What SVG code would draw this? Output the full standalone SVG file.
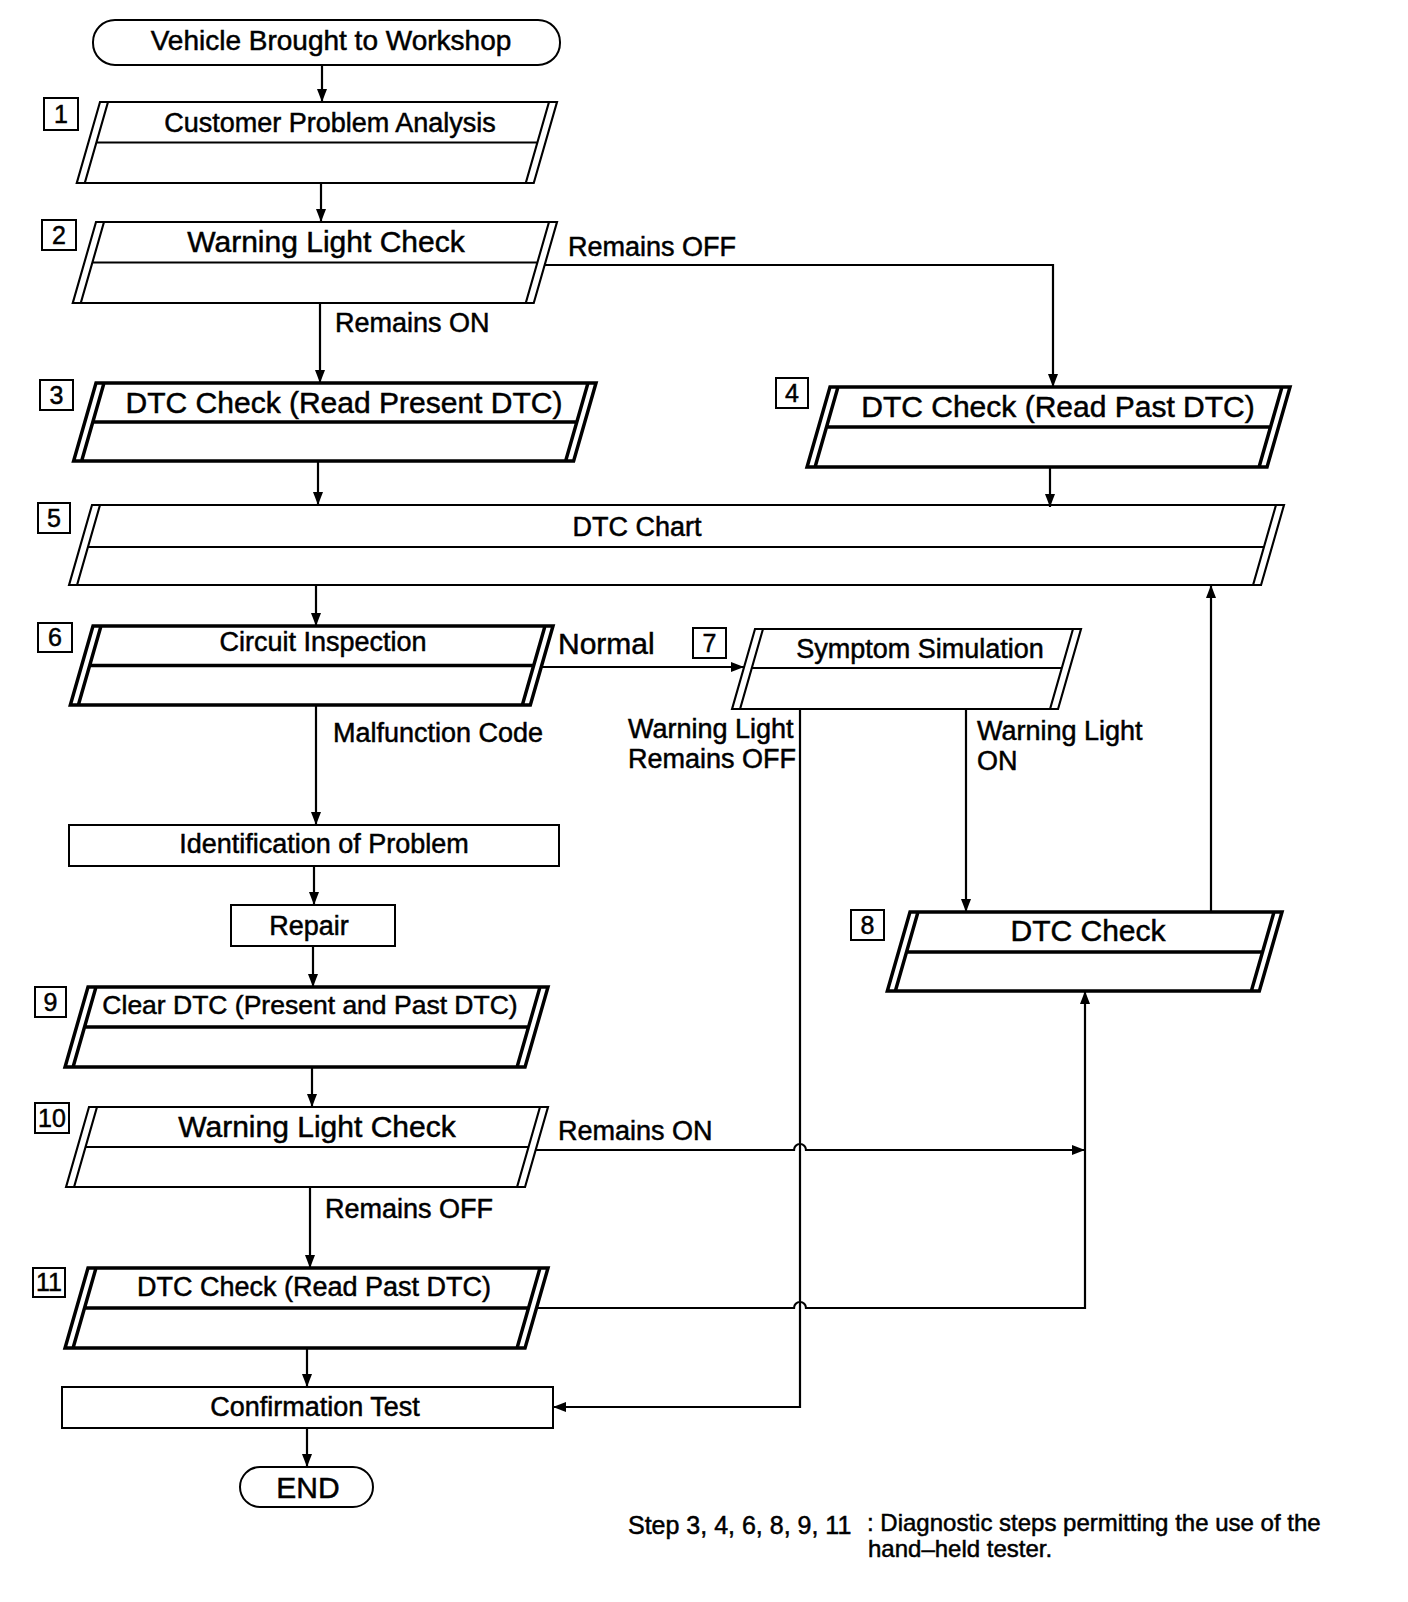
<svg xmlns="http://www.w3.org/2000/svg" width="1408" height="1602" viewBox="0 0 1408 1602">
<style>
text{font-family:"Liberation Sans",Arial,sans-serif;fill:#000;stroke:#000;stroke-width:0.5}
.t27{font-size:27px}
.t30{font-size:30px}
.c{text-anchor:middle}
.pg{fill:none;stroke:#000;stroke-width:2.2;stroke-linejoin:miter}
.pgb{fill:none;stroke:#000;stroke-width:3.6;stroke-linejoin:miter}
.box{fill:#fff;stroke:#000;stroke-width:2}
.num{fill:none;stroke:#000;stroke-width:2}
.nt{font-size:25px;text-anchor:middle}
.cn{fill:none;stroke:#000;stroke-width:2.2}
</style>
<defs>
<marker id="ah" markerUnits="userSpaceOnUse" markerWidth="14" markerHeight="10" refX="13" refY="5" orient="auto">
<path d="M0,0 L13,5 L0,10 Z" fill="#000"/>
</marker>
</defs>
<rect width="1408" height="1602" fill="#fff"/>

<g id="connectors">
<path class="cn" d="M322,65 V102" marker-end="url(#ah)"/>
<path class="cn" d="M321,183 V222" marker-end="url(#ah)"/>
<path class="cn" d="M320,303 V383" marker-end="url(#ah)"/>
<path class="cn" d="M545,265 H1053 V387" marker-end="url(#ah)"/>
<path class="cn" d="M318,461 V505" marker-end="url(#ah)"/>
<path class="cn" d="M1050,467 V507" marker-end="url(#ah)"/>
<path class="cn" d="M316,585 V626" marker-end="url(#ah)"/>
<path class="cn" d="M541,667 H744" marker-end="url(#ah)"/>
<path class="cn" d="M316,705 V825" marker-end="url(#ah)"/>
<path class="cn" d="M314,866 V905" marker-end="url(#ah)"/>
<path class="cn" d="M313,946 V987" marker-end="url(#ah)"/>
<path class="cn" d="M312,1067 V1107" marker-end="url(#ah)"/>
<path class="cn" d="M310,1187 V1268" marker-end="url(#ah)"/>
<path class="cn" d="M307,1348 V1387" marker-end="url(#ah)"/>
<path class="cn" d="M307,1428 V1467" marker-end="url(#ah)"/>
<path class="cn" d="M966,709 V912" marker-end="url(#ah)"/>
<path class="cn" d="M1211,912 V585" marker-end="url(#ah)"/>
<path class="cn" d="M800,709 V1407 H553" marker-end="url(#ah)"/>
<path class="cn" d="M536,1150 H794 A6,6 0 0 1 806,1150 H1085" marker-end="url(#ah)"/>
<path class="cn" d="M536,1308 H794 A6,6 0 0 1 806,1308 H1085 V991" marker-end="url(#ah)"/>
</g>

<g id="start">
<rect class="box" x="93" y="20" width="467" height="45" rx="22" ry="22"/>
<text class="c" x="331" y="50" style="font-size:28px">Vehicle Brought to Workshop</text>
</g>

<g id="n1">
<rect class="num" x="44" y="98" width="34" height="32"/>
<text class="nt" x="61" y="123">1</text>
<g transform="translate(100,102) skewX(-16)">
<path class="pg" d="M0,0 H457 V81 H0 Z M8,0 V81 M449,0 V81 M8,40.5 H449"/>
</g>
<text class="t27 c" x="330" y="132">Customer Problem Analysis</text>
</g>

<g id="n2">
<rect class="num" x="42" y="220" width="34" height="30"/>
<text class="nt" x="59" y="244">2</text>
<g transform="translate(96,222) skewX(-16)">
<path class="pg" d="M0,0 H461 V81 H0 Z M8,0 V81 M453,0 V81 M8,40.5 H453"/>
</g>
<text class="t30 c" x="326" y="252">Warning Light Check</text>
</g>

<g id="n3">
<rect class="num" x="40" y="380" width="33" height="30"/>
<text class="nt" x="56.5" y="404">3</text>
<g transform="translate(96,383) skewX(-16)">
<path class="pgb" d="M0,0 H500 V78 H0 Z M8,0 V78 M492,0 V78 M8,39 H492"/>
</g>
<text class="t30 c" x="344" y="413">DTC Check (Read Present DTC)</text>
</g>

<g id="n4">
<rect class="num" x="776" y="378" width="32" height="30"/>
<text class="nt" x="792" y="402">4</text>
<g transform="translate(830,387) skewX(-16)">
<path class="pgb" d="M0,0 H460 V80 H0 Z M8,0 V80 M452,0 V80 M8,40 H452"/>
</g>
<text class="t30 c" x="1058" y="417">DTC Check (Read Past DTC)</text>
</g>

<g id="n5">
<rect class="num" x="38" y="503" width="32" height="30"/>
<text class="nt" x="54" y="527">5</text>
<g transform="translate(92,505) skewX(-16)">
<path class="pg" d="M0,0 H1192 V80 H0 Z M8,0 V80 M1184,0 V80 M8,42 H1184"/>
</g>
<text class="t27 c" x="637" y="536">DTC Chart</text>
</g>

<g id="n6">
<rect class="num" x="38" y="623" width="34" height="29"/>
<text class="nt" x="55" y="646">6</text>
<g transform="translate(93,626) skewX(-16)">
<path class="pgb" d="M0,0 H460 V79 H0 Z M8,0 V79 M452,0 V79 M8,39.5 H452"/>
</g>
<text class="t27 c" x="323" y="651">Circuit Inspection</text>
</g>

<g id="n7">
<rect class="num" x="693" y="628" width="33" height="30"/>
<text class="nt" x="709.5" y="652">7</text>
<g transform="translate(755,629) skewX(-16)">
<path class="pg" d="M0,0 H326 V80 H0 Z M8,0 V80 M318,0 V80 M8,39 H318"/>
</g>
<text class="t27 c" x="920" y="658">Symptom Simulation</text>
</g>

<g id="n8">
<rect class="num" x="851" y="910" width="33" height="30"/>
<text class="nt" x="867.5" y="934">8</text>
<g transform="translate(910,912) skewX(-16)">
<path class="pgb" d="M0,0 H372 V79 H0 Z M8,0 V79 M364,0 V79 M8,40 H364"/>
</g>
<text class="t30 c" x="1088" y="941">DTC Check</text>
</g>

<g id="identification">
<rect class="box" x="69" y="825" width="490" height="41"/>
<text class="t27 c" x="324" y="853">Identification of Problem</text>
</g>

<g id="repair">
<rect class="box" x="231" y="905" width="164" height="41"/>
<text class="t27 c" x="309" y="935">Repair</text>
</g>

<g id="n9">
<rect class="num" x="35" y="987" width="31" height="30"/>
<text class="nt" x="50.5" y="1011">9</text>
<g transform="translate(88,987) skewX(-16)">
<path class="pgb" d="M0,0 H460 V80 H0 Z M8,0 V80 M452,0 V80 M8,40 H452"/>
</g>
<text class="c" x="310" y="1014" style="font-size:26.5px">Clear DTC (Present and Past DTC)</text>
</g>

<g id="n10">
<rect class="num" x="35" y="1103" width="34" height="30"/>
<text class="nt" x="52" y="1127">10</text>
<g transform="translate(89,1107) skewX(-16)">
<path class="pg" d="M0,0 H459 V80 H0 Z M8,0 V80 M451,0 V80 M8,40 H451"/>
</g>
<text class="t30 c" x="317" y="1137">Warning Light Check</text>
</g>

<g id="n11">
<rect class="num" x="33" y="1268" width="32" height="29"/>
<text class="nt" x="49" y="1291">11</text>
<g transform="translate(88,1268) skewX(-16)">
<path class="pgb" d="M0,0 H460 V80 H0 Z M8,0 V80 M452,0 V80 M8,40 H452"/>
</g>
<text class="t27 c" x="314" y="1296">DTC Check (Read Past DTC)</text>
</g>

<g id="confirmation">
<rect class="box" x="62" y="1387" width="491" height="41"/>
<text class="t27 c" x="315" y="1416">Confirmation Test</text>
</g>

<g id="end">
<rect class="box" x="240" y="1467" width="133" height="40" rx="20" ry="20"/>
<text class="t30 c" x="308" y="1498">END</text>
</g>

<g id="labels">
<text class="t27" x="568" y="256">Remains OFF</text>
<text class="t27" x="335" y="332">Remains ON</text>
<text class="t30" x="558" y="654">Normal</text>
<text class="t27" x="333" y="742">Malfunction Code</text>
<text class="t27" x="628" y="738">Warning Light</text>
<text class="t27" x="628" y="768">Remains OFF</text>
<text class="t27" x="977" y="740">Warning Light</text>
<text class="t27" x="977" y="770">ON</text>
<text class="t27" x="558" y="1140">Remains ON</text>
<text class="t27" x="325" y="1218">Remains OFF</text>
</g>

<g id="note">
<text x="628" y="1534" style="font-size:25px">Step 3, 4, 6, 8, 9, 11</text>
<text x="867" y="1531" style="font-size:24px">: Diagnostic steps permitting the use of the</text>
<text x="868" y="1557" style="font-size:24px">hand–held tester.</text>
</g>
</svg>
